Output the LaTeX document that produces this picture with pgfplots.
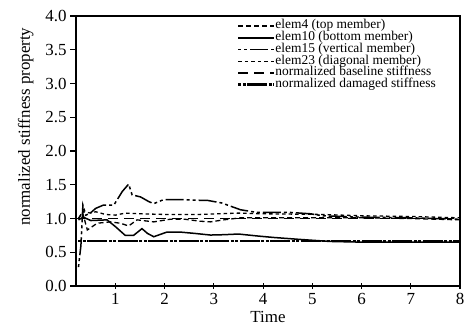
\documentclass[border=0pt]{standalone}
\usepackage{fontspec}
\setmainfont{Liberation Serif}
\usepackage{pgfplots}
\pgfplotsset{compat=1.18}
\begin{document}
\begin{tikzpicture}
\begin{axis}[
  scale only axis,
  width=384bp, height=270bp,
  xmin=0.2, xmax=8, ymin=0, ymax=4,
  xtick={1,2,3,4,5,6,7,8},
  ytick={0,0.5,1,1.5,2,2.5,3,3.5,4},
  yticklabel style={/pgf/number format/.cd,fixed,fixed zerofill,precision=1},
  /pgf/number format/assume math mode=true,
  tick label style={font=\fontsize{17}{18}\selectfont},
  xticklabel style={yshift=-1bp},
  axis line style={line width=1.2bp},
  every tick/.style={black,line width=1.1bp},
  xtick align=center, ytick align=outside,
  major tick length=6bp,
  xtick pos=bottom, ytick pos=left,
  clip=false,
  legend style={draw=none, fill=none, at={(1,1)}, anchor=north east,
    xshift=-24bp, yshift=-4bp,
    font=\fontsize{13.5}{13}\selectfont, row sep=0bp, inner sep=0bp,
    nodes={inner sep=0bp, text height=8.7bp, text depth=3bp}},
  legend cell align=left,
  legend image code/.code={\draw[#1] (0bp,0bp) -- (36bp,0bp);},
]
\addplot[black, line width=1.3bp, dash pattern=on 5bp off 3bp] coordinates {
(0.25,1.0)(0.33,1.1)(0.43,0.83)(0.63,0.93)(0.9,0.95)(1.1,0.93)(1.27,0.89)(1.44,0.98)(1.78,0.95)(2.12,0.99)(2.4,0.99)(2.72,0.96)(2.93,0.95)(3.2,0.98)(3.54,1.01)(4,1.01)(5,1.01)(6,1.01)(7,1.0)(8,0.98)};
\addlegendentry{elem4 (top member)}
\addplot[black, line width=1.5bp] coordinates {
(0.25,0.98)(0.35,1.02)(0.5,0.97)(0.83,0.98)(1.0,0.88)(1.2,0.75)(1.37,0.75)(1.54,0.85)(1.65,0.78)(1.78,0.73)(2.05,0.80)(2.3,0.80)(2.6,0.78)(2.93,0.755)(3.2,0.76)(3.5,0.77)(3.9,0.74)(4.2,0.72)(4.75,0.69)(5.36,0.66)(6,0.65)(7,0.65)(8,0.65)};
\addlegendentry{elem10 (bottom member)}
\addplot[black, line width=1.5bp, dash pattern=on 3bp off 3bp on 3bp off 3bp on 18bp off 3bp] coordinates {
(0.25,0.28)(0.3,0.6)(0.34,1.2)(0.4,1.05)(0.49,1.08)(0.6,1.15)(0.76,1.2)(0.97,1.2)(1.14,1.40)(1.27,1.51)(1.34,1.35)(1.51,1.32)(1.68,1.25)(1.78,1.22)(1.98,1.28)(2.32,1.28)(2.72,1.27)(2.86,1.27)(3.16,1.23)(3.54,1.13)(3.87,1.09)(4.55,1.09)(4.96,1.07)(5.22,1.04)(6,1.02)(7,1.01)(8,0.99)};
\addlegendentry{elem15 (vertical member)}
\addplot[black, line width=1.3bp, dash pattern=on 3.5bp off 3bp] coordinates {
(0.25,1.0)(0.35,1.1)(0.5,1.08)(0.6,1.1)(0.8,1.06)(1.0,1.05)(1.2,1.08)(1.5,1.07)(2,1.06)(2.7,1.06)(3.5,1.08)(4,1.07)(5.2,1.06)(6,1.04)(7,1.03)(8,1.01)};
\addlegendentry{elem23 (diagonal member)}
\addplot[black, line width=1.3bp, dash pattern=on 10bp off 6bp] coordinates {(0.2,1.0)(8,1.0)};
\addlegendentry{normalized baseline stiffness}
\addplot[black, line width=2.2bp, dash pattern=on 3bp off 1.5bp on 3bp off 1.5bp on 20bp off 1.5bp] coordinates {(0.25,0.667)(8,0.667)};
\addlegendentry{normalized damaged stiffness}
\node[rotate=90, anchor=center, font=\fontsize{17}{18}\selectfont] at (axis description cs:-0.131,0.59) {normalized stiffness property};
\node[anchor=center, font=\fontsize{17}{18}\selectfont] at (axis description cs:0.5,-0.115) {Time};
\end{axis}
\pgfresetboundingbox
\path ([shift={(-76bp,-45bp)}]current axis.south west) rectangle ([shift={(5bp,16bp)}]current axis.north east);
\end{tikzpicture}
\end{document}
